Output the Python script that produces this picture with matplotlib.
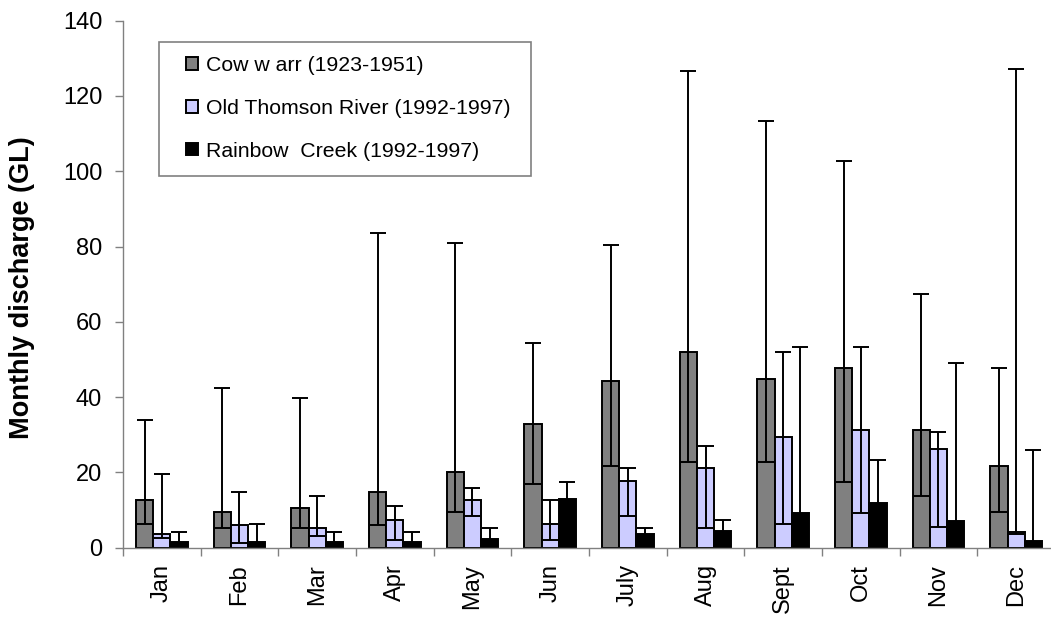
import numpy as np
import matplotlib
matplotlib.use("Agg")
import matplotlib.pyplot as plt
from matplotlib.patches import Rectangle

plt.rcParams["font.family"] = ["Liberation Sans", "DejaVu Sans"]

months = ["Jan", "Feb", "Mar", "Apr", "May", "Jun", "July", "Aug", "Sept", "Oct", "Nov", "Dec"]

# Cowwarr (1923-1951)
cow_mean = [12.8, 9.5, 10.6, 14.8, 20.2, 32.9, 44.2, 52.1, 44.7, 47.8, 31.3, 21.8]
cow_min = [6.4, 5.3, 5.3, 6.0, 9.6, 17.0, 21.8, 22.7, 22.7, 17.5, 13.7, 9.6]
cow_max = [34.0, 42.5, 39.8, 83.7, 81.0, 54.3, 80.3, 126.6, 113.4, 102.7, 67.5, 47.8]

# Old Thomson River (1992-1997)
ot_mean = [3.6, 5.9, 5.3, 7.4, 12.7, 6.3, 17.6, 21.3, 29.3, 31.3, 26.1, 4.3]
ot_min = [2.7, 1.3, 3.2, 2.1, 8.4, 2.1, 8.4, 5.2, 6.2, 9.1, 5.6, 3.6]
ot_max = [19.6, 14.8, 13.8, 11.1, 15.8, 12.7, 21.3, 27.1, 52.1, 53.2, 30.8, 127.2]

# Rainbow Creek (1992-1997)
rb_mean = [1.6, 1.5, 1.5, 1.5, 2.2, 12.9, 3.7, 4.4, 9.1, 11.8, 7.0, 1.7]
rb_min = [0.8, 0.8, 0.8, 0.8, 1.2, 8.0, 2.0, 2.5, 5.0, 6.0, 4.0, 0.8]
rb_max = [4.2, 6.4, 4.2, 4.2, 5.2, 17.5, 5.2, 7.4, 53.2, 23.4, 49.0, 26.0]

series = [
    ("Cow w arr (1923-1951)", cow_mean, cow_min, cow_max, "#808080"),
    ("Old Thomson River (1992-1997)", ot_mean, ot_min, ot_max, "#CCCCFF"),
    ("Rainbow  Creek (1992-1997)", rb_mean, rb_min, rb_max, "#000000"),
]

W, H = 1051, 624
fig = plt.figure(figsize=(W / 100, H / 100), dpi=100)
ax = fig.add_axes([123 / W, 1 - 547.7 / H, (1055 - 123) / W, (547.7 - 20.7) / H])

x = np.arange(len(months))
bw = 1 / 4.5
handles = []
for i, (name, mean, lo, hi, col) in enumerate(series):
    mean = np.array(mean)
    pos = x + (i - 1) * bw
    b = ax.bar(pos, mean, bw, color=col, edgecolor="black", linewidth=1.4, label=name, zorder=2)
    handles.append(b)
    yerr = [mean - np.array(lo), np.array(hi) - mean]
    ax.errorbar(pos, mean, yerr=yerr, fmt="none", ecolor="black", elinewidth=1.4,
                capsize=5.8, capthick=1.4, zorder=3)

ax.set_xlim(-0.5, len(months) - 0.5)
ax.set_ylim(0, 140)
ax.set_yticks(np.arange(0, 141, 20))
ax.set_xticks(x)
ax.set_xticklabels(months, rotation=90, fontsize=17)
ax.set_xticks(np.arange(-0.5, len(months), 1), minor=True)
ax.tick_params(axis="x", which="major", length=0, pad=12)
ax.tick_params(axis="x", which="minor", length=6, width=1, color="#808080", direction="out")
ax.tick_params(axis="y", length=6, width=1, color="#808080", direction="out", labelsize=17, pad=9)

for s in ["top", "right"]:
    ax.spines[s].set_visible(False)
for s in ["left", "bottom"]:
    ax.spines[s].set_color("#808080")
    ax.spines[s].set_linewidth(1)

fig.text(22.5 / W, 1 - 287.5 / H, "Monthly discharge (GL)", rotation=90,
         ha="center", va="center", fontsize=19.5, fontweight="bold")

# legend box
fig.patches.append(Rectangle((159 / W, 1 - 176 / H), (531 - 159) / W, (176 - 42) / H,
                             transform=fig.transFigure, facecolor="white",
                             edgecolor="#808080", linewidth=1.2, zorder=4))
leg = fig.legend(handles=handles, loc="upper left", bbox_to_anchor=(186 / W, 1 - 56 / H),
                 frameon=False, fontsize=15.3, handlelength=0.55, handleheight=0.55,
                 handletextpad=0.4, labelspacing=1.12, borderpad=0, borderaxespad=0)
leg.set_zorder(5)

fig.savefig("out.png", dpi=100)
